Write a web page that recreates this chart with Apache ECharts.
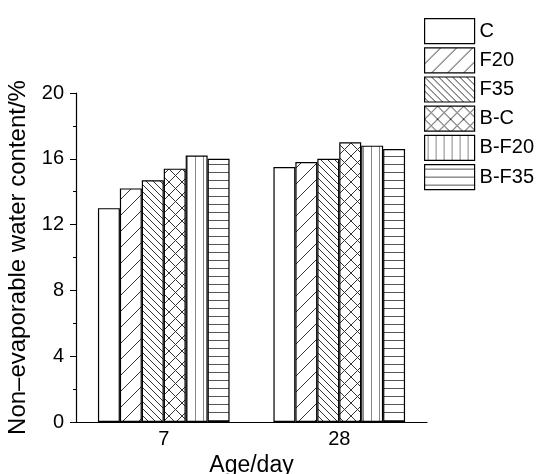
<!DOCTYPE html>
<html>
<head>
<meta charset="utf-8">
<script src="https://cdn.jsdelivr.net/npm/echarts@6/dist/echarts.min.js"></script>
<style>
  html, body { margin: 0; padding: 0; background: #fff; }
  #chart { width: 536px; height: 474px; }
</style>
</head>
<body>
<div id="chart"></div>
<script>
// Curing ages (x categories) and non-evaporable water content (%) per mix
const categories = ['7', '28'];
const mixNames = ['C', 'F20', 'F35', 'B-C', 'B-F20', 'B-F35'];
const valuesC    = [13.0, 15.5];
const valuesF20  = [14.2, 15.8];
const valuesF35  = [14.7, 16.0];
const valuesBC   = [15.4, 17.0];
const valuesBF20 = [16.2, 16.8];
const valuesBF35 = [16.0, 16.6];
const yTicks = [0, 4, 8, 12, 16, 20];

// Small repeating canvas tiles used as hatch fills
function makeTile(size, draw) {
  const c = document.createElement('canvas');
  c.width = size; c.height = size;
  const ctx = c.getContext('2d');
  ctx.fillStyle = '#fff';
  ctx.fillRect(0, 0, size, size);
  draw(ctx, size);
  return { image: c, repeat: 'repeat' };
}
function diag(ctx, s, forward) {
  for (let k = -1; k <= 1; k++) {
    ctx.beginPath();
    if (forward) { ctx.moveTo(k * s, s); ctx.lineTo(k * s + s, 0); }
    else { ctx.moveTo(k * s, 0); ctx.lineTo(k * s + s, s); }
    ctx.stroke();
  }
}
const fills = [
  '#ffffff',
  makeTile(16, (ctx, s) => { ctx.strokeStyle = '#333'; ctx.lineWidth = 1; diag(ctx, s, true); }),
  makeTile(7, (ctx, s) => { ctx.strokeStyle = '#333'; ctx.lineWidth = 1; diag(ctx, s, false); }),
  makeTile(13, (ctx, s) => { ctx.strokeStyle = '#333'; ctx.lineWidth = 1; diag(ctx, s, true); diag(ctx, s, false); }),
  makeTile(8, (ctx, s) => { ctx.strokeStyle = '#888'; ctx.lineWidth = 1; ctx.beginPath(); ctx.moveTo(3.5, 0); ctx.lineTo(3.5, s); ctx.stroke(); }),
  makeTile(8, (ctx, s) => { ctx.strokeStyle = '#555'; ctx.lineWidth = 1; ctx.beginPath(); ctx.moveTo(0, 4.5); ctx.lineTo(s, 4.5); ctx.stroke(); })
];
const seriesValues = [valuesC, valuesF20, valuesF35, valuesBC, valuesBF20, valuesBF35];

const font = 'Liberation Sans, Arial, sans-serif';
const chart = echarts.init(document.getElementById('chart'), null, { renderer: 'canvas' });
chart.setOption({
  animation: false,
  backgroundColor: '#fff',
  textStyle: { fontFamily: font, color: '#000' },
  grid: { left: 76, right: 109, top: 93, bottom: 52, containLabel: false, outerBoundsMode: 'none' },
  legend: {
    orient: 'vertical',
    left: 419,
    top: 13,
    itemWidth: 50,
    itemHeight: 25,
    itemGap: 3,
    icon: 'rect',
    selectedMode: false,
    data: mixNames,
    itemStyle: { borderColor: '#000', borderWidth: 1.2 },
    textStyle: { fontFamily: font, fontSize: 20, color: '#000' }
  },
  xAxis: {
    type: 'category',
    data: categories,
    name: 'Age/day',
    nameLocation: 'middle',
    nameGap: 26,
    nameTextStyle: { fontFamily: font, fontSize: 23, color: '#000' },
    axisLine: { lineStyle: { color: '#000', width: 1.2 } },
    axisTick: { show: false },
    axisLabel: { fontFamily: font, fontSize: 20, color: '#000', margin: 7 },
    splitLine: { show: false }
  },
  yAxis: {
    type: 'value',
    min: yTicks[0],
    max: yTicks[yTicks.length - 1],
    interval: 4,
    name: 'Non\u2013evaporable water content/%',
    nameLocation: 'middle',
    nameGap: 43,
    nameTextStyle: { fontFamily: font, fontSize: 24, color: '#000' },
    axisLine: { show: true, lineStyle: { color: '#000', width: 1.2 } },
    axisTick: { show: true, length: 6, lineStyle: { color: '#000' } },
    minorTick: { show: true, splitNumber: 2, length: 3, lineStyle: { color: '#000' } },
    axisLabel: { fontFamily: font, fontSize: 20, color: '#000', margin: 12 },
    splitLine: { show: false }
  },
  series: mixNames.map((name, i) => ({
    name: name,
    type: 'bar',
    data: seriesValues[i],
    barGap: '0%',
    barCategoryGap: '25%',
    itemStyle: { color: fills[i], borderColor: '#000', borderWidth: 1.2 },
    emphasis: { disabled: true }
  }))
});
</script>
</body>
</html>
